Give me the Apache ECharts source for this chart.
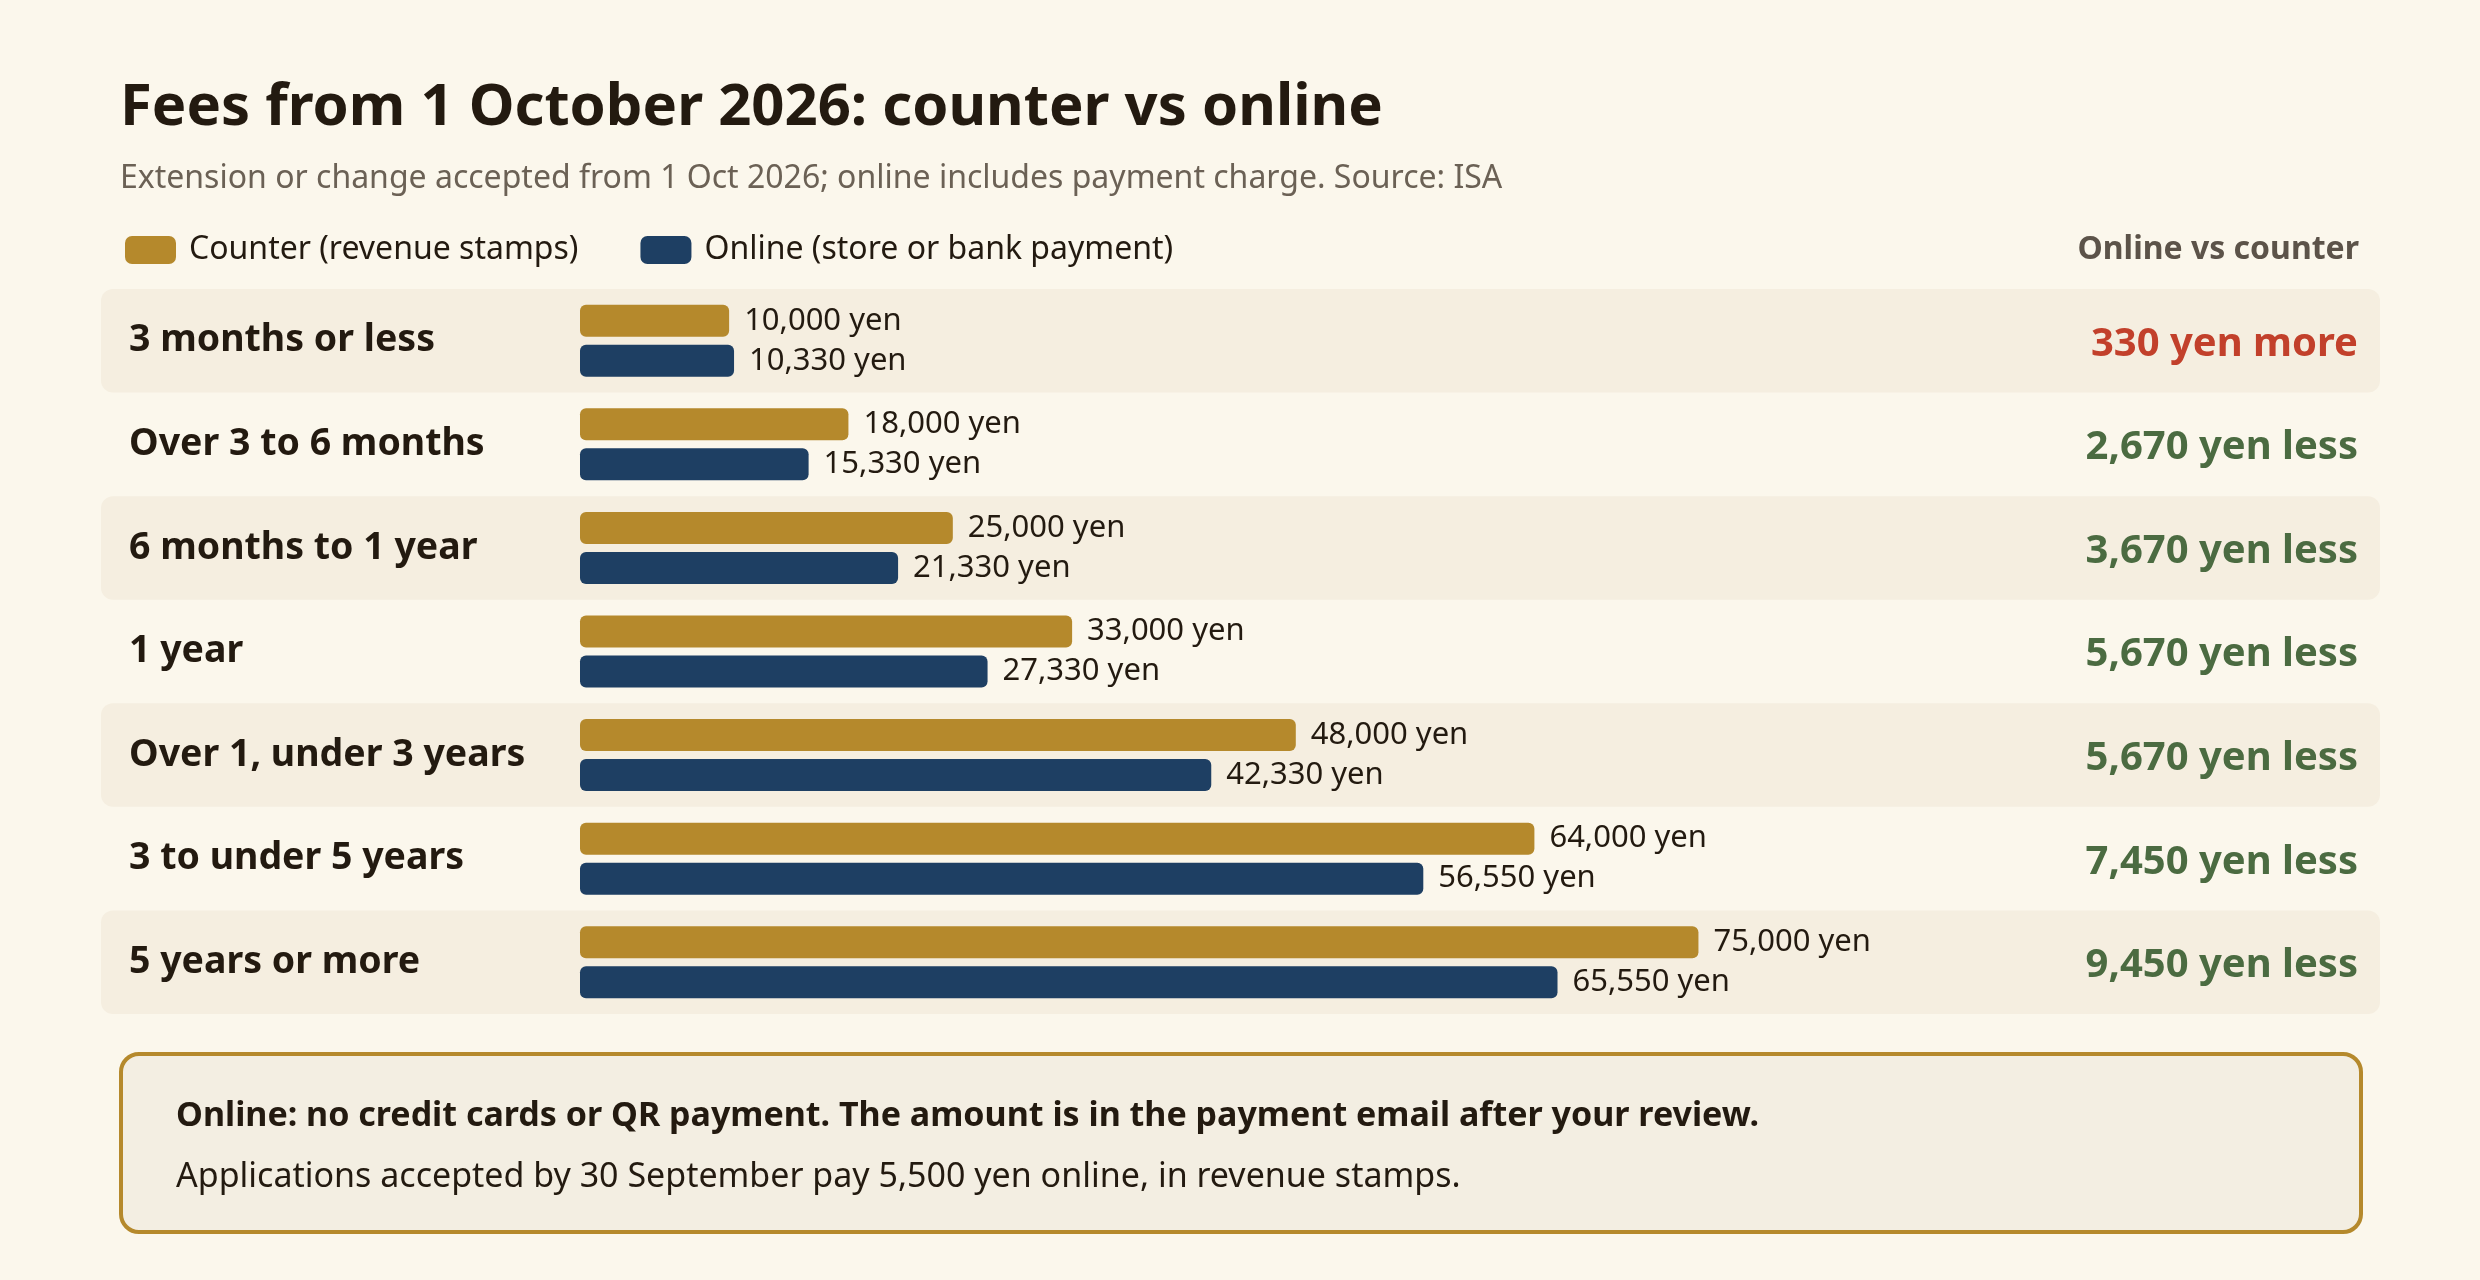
<!DOCTYPE html>
<html>
<head>
<meta charset="utf-8">
<script src="https://cdn.jsdelivr.net/npm/echarts@6/dist/echarts.min.js"></script>
<style>
  html, body { margin: 0; padding: 0; background: #fbf7ec; }
  #main { width: 2480px; height: 1280px; }
</style>
</head>
<body>
<div id="main"></div>
<script>
// data
const categories = ['3 months or less', 'Over 3 to 6 months', '6 months to 1 year', '1 year',
  'Over 1, under 3 years', '3 to under 5 years', '5 years or more'];
const counterFees = [10000, 18000, 25000, 33000, 48000, 64000, 75000];
const onlineFees = [10330, 15330, 21330, 27330, 42330, 56550, 65550];

const FONT = '"Noto Sans", "Noto Sans CJK JP", sans-serif';
const GOLD = '#b5892c';
const NAVY = '#1e3f63';
const INK = '#231a10';

const fmt = v => v.toLocaleString('en-US');

// online minus counter, shown on the right
const diffLabels = categories.map((c, i) => {
  const d = onlineFees[i] - counterFees[i];
  return d > 0 ? '{more|' + fmt(d) + ' yen more}' : '{less|' + fmt(-d) + ' yen less}';
});

const chart = echarts.init(document.getElementById('main'));

const option = {
  backgroundColor: '#fbf7ec',
  textStyle: { fontFamily: FONT },
  animation: false,
  legend: {
    left: 120,
    top: 229,
    itemWidth: 51,
    itemHeight: 28,
    itemGap: 62,
    icon: 'roundRect',
    selectedMode: false,
    textStyle: { fontFamily: FONT, fontSize: 32, color: INK, padding: [0, 0, 0, 8] },
    data: ['Counter (revenue stamps)', 'Online (store or bank payment)']
  },
  grid: { left: 580, top: 289, height: 725, right: 707 },
  xAxis: {
    type: 'value', min: 0, max: 80000,
    show: false
  },
  yAxis: [{
    type: 'category',
    data: categories,
    inverse: true,
    axisLine: { show: false },
    axisTick: { show: false },
    axisLabel: {
      align: 'left', margin: 451,
      fontFamily: FONT, fontSize: 37.5, fontWeight: 'bold', color: INK
    }
  }, {
    type: 'category',
    data: categories,
    inverse: true,
    position: 'right',
    axisLine: { show: false },
    axisTick: { show: false },
    axisLabel: {
      align: 'right', margin: 585,
      formatter: (v, i) => diffLabels[i],
      rich: {
        more: { fontFamily: FONT, fontSize: 40, fontWeight: 'bold', color: '#c2402b', padding: [7, 0, 0, 0] },
        less: { fontFamily: FONT, fontSize: 40, fontWeight: 'bold', color: '#4b6b41', padding: [7, 0, 0, 0] }
      }
    }
  }],
  graphic: [
    { type: 'text', x: 120, y: 108, style: { text: 'Fees from 1 October 2026: counter vs online',
      font: 'bold 58px ' + FONT, fill: INK, textVerticalAlign: 'middle' }, z: 10 },
    { type: 'text', x: 120, y: 179, style: { text: 'Extension or change accepted from 1 Oct 2026; online includes payment charge. Source: ISA',
      font: '32px ' + FONT, fill: '#6b6155', textVerticalAlign: 'middle' } },
    { type: 'text', x: 2359, y: 250, style: { text: 'Online vs counter',
      font: 'bold 32px ' + FONT, fill: '#5c5349', textAlign: 'right', textVerticalAlign: 'middle' } },
    { type: 'rect', shape: { x: 121, y: 1054, width: 2240, height: 178, r: 18 },
      style: { fill: '#f3eee2', stroke: GOLD, lineWidth: 4 }, z: 0 },
    { type: 'text', x: 176, y: 1116, style: { text: 'Online: no credit cards or QR payment. The amount is in the payment email after your review.',
      font: 'bold 34px ' + FONT, fill: INK, textVerticalAlign: 'middle' }, z: 1 },
    { type: 'text', x: 176, y: 1177, style: { text: 'Applications accepted by 30 September pay 5,500 yen online, in revenue stamps.',
      font: '34px ' + FONT, fill: INK, textVerticalAlign: 'middle' }, z: 1 }
  ],
  series: [
    {
      // alternating row bands behind everything
      type: 'custom',
      silent: true,
      z: 0,
      clip: false,
      data: categories.map((c, i) => [0, i]),
      renderItem: (params, api) => {
        const idx = api.value(1);
        if (idx % 2 === 1) return;
        const p = api.coord([0, idx]);
        const h = api.size([0, 1])[1];
        return {
          type: 'rect',
          shape: { x: 101, y: p[1] - h / 2, width: 2380 - 101, height: h, r: 12 },
          style: { fill: '#f5eee0' }
        };
      }
    },
    {
      name: 'Counter (revenue stamps)',
      type: 'bar',
      data: counterFees,
      barWidth: 32,
      barGap: '25%',
      itemStyle: { color: GOLD, borderRadius: 6 },
      label: {
        show: true, position: 'right', distance: 15,
        formatter: p => fmt(p.value) + ' yen',
        fontFamily: FONT, fontSize: 31, color: INK, padding: [4, 0, 0, 0]
      },
      z: 2
    },
    {
      name: 'Online (store or bank payment)',
      type: 'bar',
      data: onlineFees,
      barWidth: 32,
      itemStyle: { color: NAVY, borderRadius: 6 },
      label: {
        show: true, position: 'right', distance: 15,
        formatter: p => fmt(p.value) + ' yen',
        fontFamily: FONT, fontSize: 31, color: INK, padding: [4, 0, 0, 0]
      },
      z: 2
    }
  ]
};

chart.setOption(option);
</script>
</body>
</html>
